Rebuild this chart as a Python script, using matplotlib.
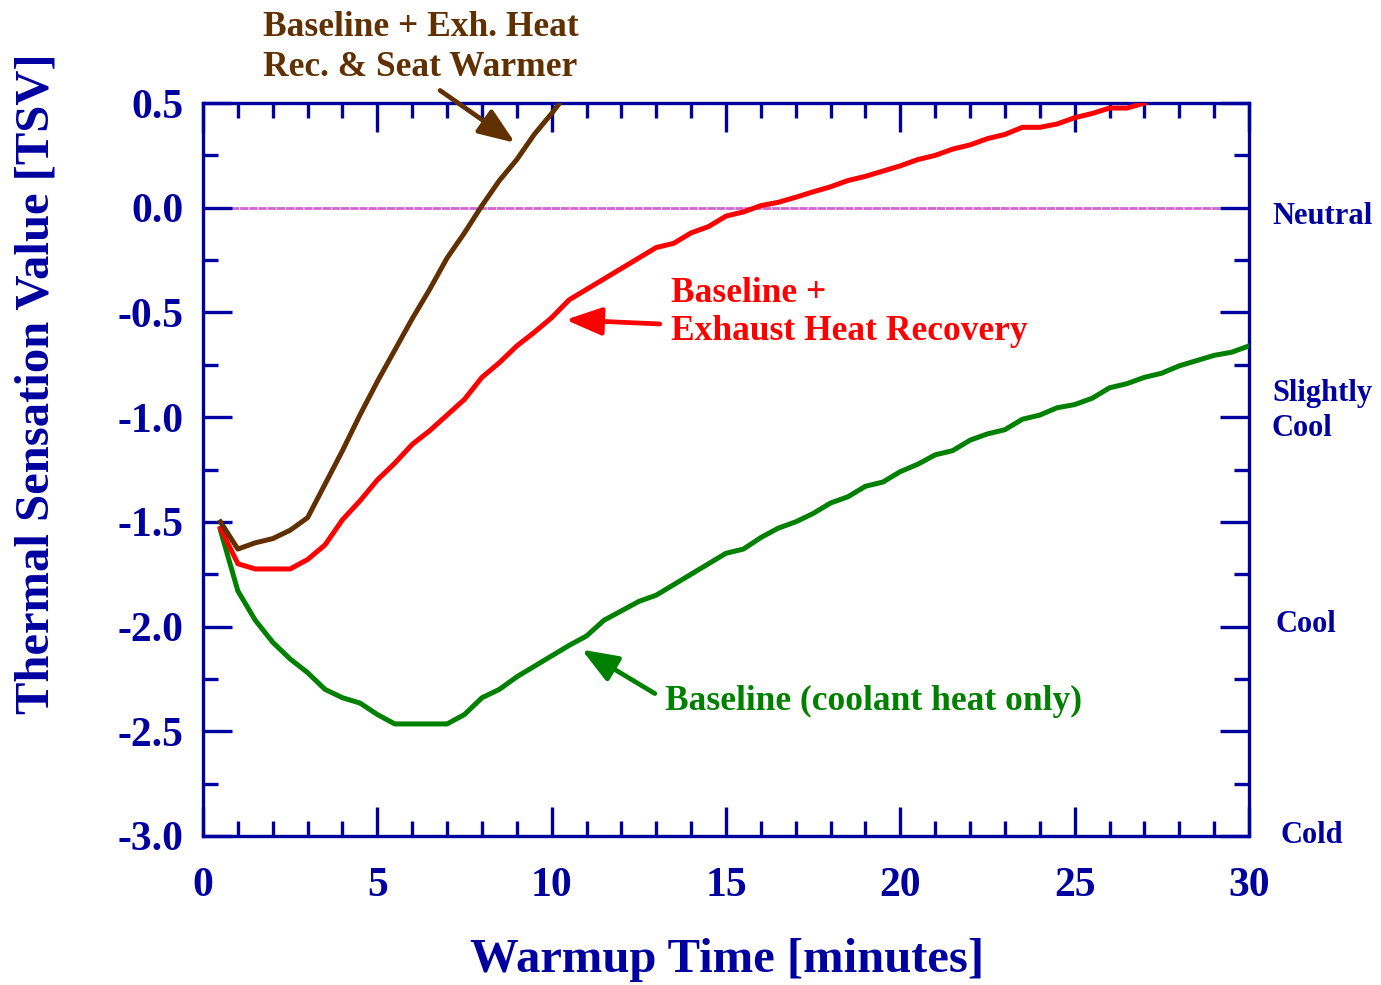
import matplotlib.pyplot as plt
import numpy as np

plt.rcParams['font.family'] = ['Liberation Serif', 'DejaVu Serif']
plt.rcParams['font.weight'] = 'bold'

NAVY = '#0000a0'
BROWN = '#603000'
RED = '#ff0000'
GREEN = '#008000'

# warmup time [min] and TSV for the three configurations
t_seat = [0.5, 1.0, 1.5, 2.0, 2.5, 3.0, 3.5, 4.0, 4.5, 5.0, 5.5, 6.0, 6.5, 7.0,
          7.5, 8.0, 8.5, 9.0, 9.5, 10.0, 10.5]
tsv_seat = [-1.50, -1.63, -1.60, -1.58, -1.54, -1.48, -1.32, -1.16, -0.99, -0.83,
            -0.68, -0.53, -0.39, -0.24, -0.12, 0.01, 0.13, 0.23, 0.35, 0.45, 0.56]

t_exh = [0.5, 1.0, 1.5, 2.0, 2.5, 3.0, 3.5, 4.0, 4.5, 5.0, 5.5, 6.0, 6.5, 7.0,
         7.5, 8.0, 8.5, 9.0, 9.5, 10.0, 10.5, 11.0, 11.5, 12.0, 12.5, 13.0, 13.5,
         14.0, 14.5, 15.0, 15.5, 16.0, 16.5, 17.0, 17.5, 18.0, 18.5, 19.0, 19.5,
         20.0, 20.5, 21.0, 21.5, 22.0, 22.5, 23.0, 23.5, 24.0, 24.5, 25.0, 25.5,
         26.0, 26.5, 27.0]
tsv_exh = [-1.53, -1.70, -1.725, -1.725, -1.725, -1.68, -1.61, -1.49, -1.40, -1.30,
           -1.22, -1.13, -1.065, -0.99, -0.915, -0.81, -0.74, -0.66, -0.595, -0.525,
           -0.44, -0.39, -0.34, -0.29, -0.24, -0.19, -0.17, -0.12, -0.09, -0.04,
           -0.02, 0.01, 0.026, 0.05, 0.076, 0.10, 0.13, 0.15, 0.175, 0.20, 0.23,
           0.25, 0.28, 0.30, 0.33, 0.35, 0.384, 0.384, 0.40, 0.43, 0.45, 0.476,
           0.476, 0.50]

t_base = [0.5, 1.0, 1.5, 2.0, 2.5, 3.0, 3.5, 4.0, 4.5, 5.0, 5.5, 6.0, 6.5, 7.0,
          7.5, 8.0, 8.5, 9.0, 9.5, 10.0, 10.5, 11.0, 11.5, 12.0, 12.5, 13.0, 13.5,
          14.0, 14.5, 15.0, 15.5, 16.0, 16.5, 17.0, 17.5, 18.0, 18.5, 19.0, 19.5,
          20.0, 20.5, 21.0, 21.5, 22.0, 22.5, 23.0, 23.5, 24.0, 24.5, 25.0, 25.5,
          26.0, 26.5, 27.0, 27.5, 28.0, 28.5, 29.0, 29.5, 30.0]
tsv_base = [-1.54, -1.83, -1.97, -2.075, -2.155, -2.22, -2.30, -2.34, -2.365, -2.42,
            -2.465, -2.465, -2.465, -2.465, -2.42, -2.34, -2.30, -2.24, -2.19, -2.14,
            -2.09, -2.045, -1.97, -1.925, -1.88, -1.85, -1.80, -1.75, -1.70, -1.65,
            -1.63, -1.575, -1.53, -1.50, -1.46, -1.41, -1.38, -1.33, -1.31, -1.26,
            -1.225, -1.18, -1.16, -1.11, -1.08, -1.06, -1.01, -0.99, -0.955, -0.94,
            -0.91, -0.86, -0.84, -0.81, -0.79, -0.755, -0.73, -0.705, -0.69, -0.66]

scale_vals = [-0.04, -0.97, -1.99, -3.0]
scale_names = ['Neutral', 'Slightly\nCool', 'Cool', 'Cold']
scale_x = [30.66, 30.66, 30.77, 30.89]

fig = plt.figure(figsize=(13.81, 9.85), dpi=100)
ax = fig.add_axes([0.147, 0.1513, 0.7574, 0.7441])

ax.axhline(0.0, color='#d264d2', lw=2.0, dashes=(3, 0.3), zorder=1)
ax.plot(t_base, tsv_base, color=GREEN, lw=3.6, zorder=3)
ax.plot(t_exh, tsv_exh, color=RED, lw=3.6, zorder=3)
ax.plot(t_seat, tsv_seat, color=BROWN, lw=3.6, zorder=3)

ax.set_xlim(0, 30)
ax.set_ylim(-3.0, 0.5)
ax.set_xticks(np.arange(0, 31, 5))
ax.set_xticks(np.arange(0, 31, 1), minor=True)
ax.set_yticks(np.arange(-3.0, 0.51, 0.5))
ax.set_yticks(np.arange(-3.0, 0.51, 0.25), minor=True)
ax.set_yticklabels(['%.1f' % v for v in np.arange(-3.0, 0.51, 0.5)])

for s in ax.spines.values():
    s.set_color(NAVY)
    s.set_linewidth(2.4)
ax.tick_params(which='both', direction='in', top=True, right=True, color=NAVY,
               width=2.4, labelcolor=NAVY, labelsize=30)
ax.tick_params(which='major', length=21)
ax.tick_params(which='minor', length=10.5)
ax.tick_params(axis='y', pad=14)
ax.tick_params(axis='x', pad=22)

# axis titles placed on the figure
fig.text(727 / 1381, 1 - 960 / 985, 'Warmup Time [minutes]', fontsize=35,
         fontweight='bold', color=NAVY, ha='center', va='center')
fig.text(37 / 1381, 1 - 384 / 985, 'Thermal Sensation Value [TSV]', fontsize=35,
         fontweight='bold', color=NAVY, ha='center', va='center', rotation=90)

for x, y, name in zip(scale_x, scale_vals, scale_names):
    ax.text(x, y, name, fontsize=22, color=NAVY, ha='left', va='center',
            linespacing=1.25, clip_on=False)

# curve labels with arrows
head = '-|>,head_length=2.2,head_width=0.85'
ax.text(1.72, 0.765, 'Baseline + Exh. Heat\nRec. & Seat Warmer', fontsize=25.5,
        color=BROWN, ha='left', va='center', linespacing=1.25, clip_on=False)
ax.annotate('', xy=(8.95, 0.31), xytext=(6.8, 0.56), annotation_clip=False,
            arrowprops=dict(arrowstyle=head, color=BROWN, lw=3.4, shrinkA=0, shrinkB=0))

ax.text(13.42, -0.50, 'Baseline +\nExhaust Heat Recovery', fontsize=25.5,
        color=RED, ha='left', va='center', linespacing=1.2)
ax.annotate('', xy=(10.4, -0.535), xytext=(13.1, -0.555),
            arrowprops=dict(arrowstyle=head, color=RED, lw=3.4, shrinkA=0, shrinkB=0))

ax.text(13.25, -2.357, 'Baseline (coolant heat only)', fontsize=25.5,
        color=GREEN, ha='left', va='center')
ax.annotate('', xy=(10.86, -2.11), xytext=(12.96, -2.32),
            arrowprops=dict(arrowstyle=head, color=GREEN, lw=3.4, shrinkA=0, shrinkB=0))

fig.savefig('out.png', dpi=100)
